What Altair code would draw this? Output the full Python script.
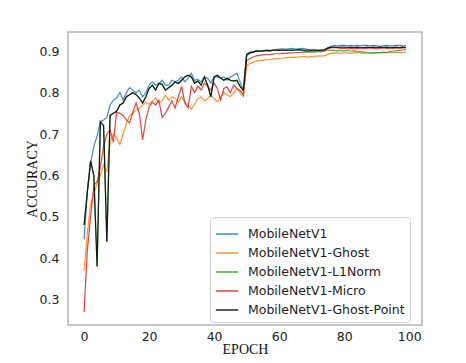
import altair as alt
import pandas as pd

epochs = list(range(100))

names = ["MobileNetV1", "MobileNetV1-Ghost", "MobileNetV1-L1Norm",
         "MobileNetV1-Micro", "MobileNetV1-Ghost-Point"]
colors = ["#1f77b4", "#ff7f0e", "#2ca02c", "#d62728", "#000000"]

mobilenet = [
    0.445, 0.56, 0.63, 0.67, 0.695, 0.73, 0.734, 0.74, 0.77, 0.782,
    0.787, 0.80, 0.782, 0.80, 0.812, 0.806, 0.80, 0.806, 0.79, 0.80,
    0.818, 0.826, 0.818, 0.822, 0.83, 0.818, 0.818, 0.83, 0.826, 0.83,
    0.838, 0.826, 0.835, 0.847, 0.83, 0.832, 0.826, 0.838, 0.835, 0.823,
    0.838, 0.838, 0.835, 0.838, 0.83, 0.838, 0.842, 0.847, 0.826, 0.806,
    0.893, 0.898, 0.899, 0.90, 0.901, 0.90, 0.902, 0.903, 0.902, 0.904,
    0.905, 0.906, 0.905, 0.906, 0.907, 0.905, 0.906, 0.907, 0.906, 0.904,
    0.903, 0.903, 0.902, 0.902, 0.903, 0.908, 0.912, 0.914, 0.913, 0.914,
    0.914, 0.913, 0.914, 0.913, 0.914, 0.913, 0.914, 0.914, 0.913, 0.914,
    0.913, 0.912, 0.913, 0.914, 0.913, 0.913, 0.914, 0.914, 0.913, 0.914,
]

ghost = [
    0.37, 0.46, 0.53, 0.555, 0.58, 0.60, 0.625, 0.61, 0.68, 0.70,
    0.69, 0.675, 0.70, 0.725, 0.745, 0.75, 0.758, 0.762, 0.77, 0.777,
    0.772, 0.78, 0.787, 0.775, 0.78, 0.794, 0.782, 0.79, 0.786, 0.777,
    0.79, 0.777, 0.77, 0.76, 0.772, 0.785, 0.79, 0.78, 0.785, 0.794,
    0.785, 0.778, 0.79, 0.80, 0.795, 0.79, 0.80, 0.81, 0.80, 0.79,
    0.866, 0.870, 0.873, 0.876, 0.878, 0.878, 0.879, 0.880, 0.881, 0.882,
    0.882, 0.883, 0.884, 0.885, 0.885, 0.886, 0.886, 0.887, 0.887, 0.886,
    0.887, 0.888, 0.888, 0.889, 0.889, 0.893, 0.895, 0.896, 0.896, 0.895,
    0.896, 0.896, 0.895, 0.896, 0.897, 0.896, 0.895, 0.896, 0.896, 0.895,
    0.896, 0.897, 0.896, 0.896, 0.897, 0.896, 0.897, 0.898, 0.897, 0.898,
]

l1norm = [
    0.48, 0.56, 0.635, 0.60, 0.38, 0.73, 0.72, 0.44, 0.745, 0.75,
    0.755, 0.77, 0.775, 0.79, 0.795, 0.80, 0.795, 0.787, 0.775, 0.79,
    0.81, 0.818, 0.806, 0.822, 0.82, 0.806, 0.812, 0.818, 0.826, 0.822,
    0.83, 0.838, 0.842, 0.838, 0.823, 0.828, 0.818, 0.838, 0.818, 0.79,
    0.838, 0.842, 0.835, 0.83, 0.835, 0.83, 0.828, 0.83, 0.815, 0.805,
    0.89, 0.896, 0.898, 0.901, 0.900, 0.901, 0.902, 0.901, 0.902, 0.903,
    0.902, 0.903, 0.902, 0.903, 0.902, 0.903, 0.904, 0.903, 0.900, 0.898,
    0.898, 0.898, 0.899, 0.899, 0.900, 0.903, 0.902, 0.902, 0.901, 0.902,
    0.901, 0.902, 0.900, 0.901, 0.900, 0.899, 0.898, 0.897, 0.896, 0.896,
    0.897, 0.896, 0.898, 0.897, 0.899, 0.900, 0.901, 0.902, 0.903, 0.904,
]

micro = [
    0.27, 0.42, 0.50, 0.575, 0.585, 0.62, 0.67, 0.70, 0.71, 0.68,
    0.753, 0.75, 0.745, 0.734, 0.727, 0.753, 0.775, 0.75, 0.686, 0.734,
    0.765, 0.777, 0.77, 0.782, 0.74, 0.75, 0.765, 0.78, 0.763, 0.79,
    0.815, 0.775, 0.763, 0.815, 0.80, 0.815, 0.806, 0.823, 0.815, 0.806,
    0.823, 0.81, 0.782, 0.81, 0.814, 0.80, 0.818, 0.81, 0.805, 0.795,
    0.878, 0.882, 0.886, 0.889, 0.890, 0.891, 0.892, 0.892, 0.893, 0.894,
    0.894, 0.895, 0.895, 0.896, 0.896, 0.897, 0.897, 0.898, 0.898, 0.899,
    0.900, 0.900, 0.901, 0.901, 0.902, 0.906, 0.908, 0.909, 0.908, 0.907,
    0.907, 0.906, 0.907, 0.906, 0.907, 0.906, 0.907, 0.907, 0.908, 0.907,
    0.906, 0.907, 0.908, 0.907, 0.906, 0.907, 0.908, 0.907, 0.908, 0.908,
]

ghost_point = [
    0.48, 0.56, 0.635, 0.60, 0.38, 0.73, 0.72, 0.44, 0.745, 0.75,
    0.755, 0.77, 0.775, 0.79, 0.795, 0.80, 0.795, 0.787, 0.775, 0.79,
    0.81, 0.818, 0.806, 0.822, 0.82, 0.806, 0.812, 0.818, 0.826, 0.822,
    0.83, 0.838, 0.842, 0.838, 0.823, 0.828, 0.818, 0.838, 0.818, 0.79,
    0.838, 0.842, 0.835, 0.83, 0.835, 0.83, 0.828, 0.83, 0.815, 0.805,
    0.89, 0.896, 0.898, 0.901, 0.900, 0.901, 0.902, 0.901, 0.902, 0.903,
    0.902, 0.903, 0.902, 0.903, 0.902, 0.903, 0.904, 0.903, 0.902, 0.903,
    0.902, 0.903, 0.902, 0.903, 0.904, 0.908, 0.910, 0.910, 0.909, 0.910,
    0.910, 0.909, 0.910, 0.909, 0.910, 0.909, 0.909, 0.910, 0.909, 0.910,
    0.909, 0.910, 0.909, 0.910, 0.909, 0.909, 0.910, 0.909, 0.910, 0.909,
]

series_values = [mobilenet, ghost, l1norm, micro, ghost_point]

rows = []
for name, vals in zip(names, series_values):
    for e, v in zip(epochs, vals):
        rows.append({"epoch": e, "accuracy": v, "series": name})
df = pd.DataFrame(rows)

color = alt.Color(
    "series:N",
    scale=alt.Scale(domain=names, range=colors),
    legend=alt.Legend(
        orient="none", legendX=142, legendY=185, title=None,
        symbolType="stroke", symbolSize=500, symbolStrokeWidth=1.5,
        labelFont="DejaVu Sans", labelFontSize=12.5, labelColor="#222222",
        labelOffset=9, rowPadding=-5, padding=5,
        fillColor="rgba(255,255,255,0.8)", strokeColor="#d0d0d0",
        cornerRadius=3, labelLimit=300,
    ),
)

x = alt.X(
    "epoch:Q",
    scale=alt.Scale(domain=[-4.95, 103.95], nice=False, zero=False),
    axis=alt.Axis(values=[0, 20, 40, 60, 80, 100], title="EPOCH",
                  labelPadding=5, titlePadding=0),
)
y = alt.Y(
    "accuracy:Q",
    scale=alt.Scale(domain=[0.2385, 0.9465], nice=False, zero=False),
    axis=alt.Axis(values=[0.3, 0.4, 0.5, 0.6, 0.7, 0.8, 0.9], format=".1f",
                  title="ACCURACY", labelPadding=9, titlePadding=0),
)

layers = []
for name in names:
    layers.append(
        alt.Chart(df)
        .transform_filter(alt.datum.series == name)
        .mark_line(strokeWidth=1.2, opacity=0.85)
        .encode(x=x, y=y, color=color)
    )

chart = (
    alt.layer(*layers)
    .properties(
        width=354, height=293,
        autosize=alt.AutoSizeParams(type="none"),
        padding={"left": 60, "top": 24, "right": 36, "bottom": 36},
    )
    .configure_view(stroke="#b5b5b5", strokeWidth=1.5)
    .configure_axis(
        grid=False, domain=False, ticks=False,
        labelFont="DejaVu Sans", labelFontSize=12.5, labelColor="#222222",
        titleFont="Liberation Serif", titleFontSize=14,
        titleFontWeight="normal", titleColor="#111111",
    )
)

chart.save("out.html", embed_options={"renderer": "svg", "actions": False})
